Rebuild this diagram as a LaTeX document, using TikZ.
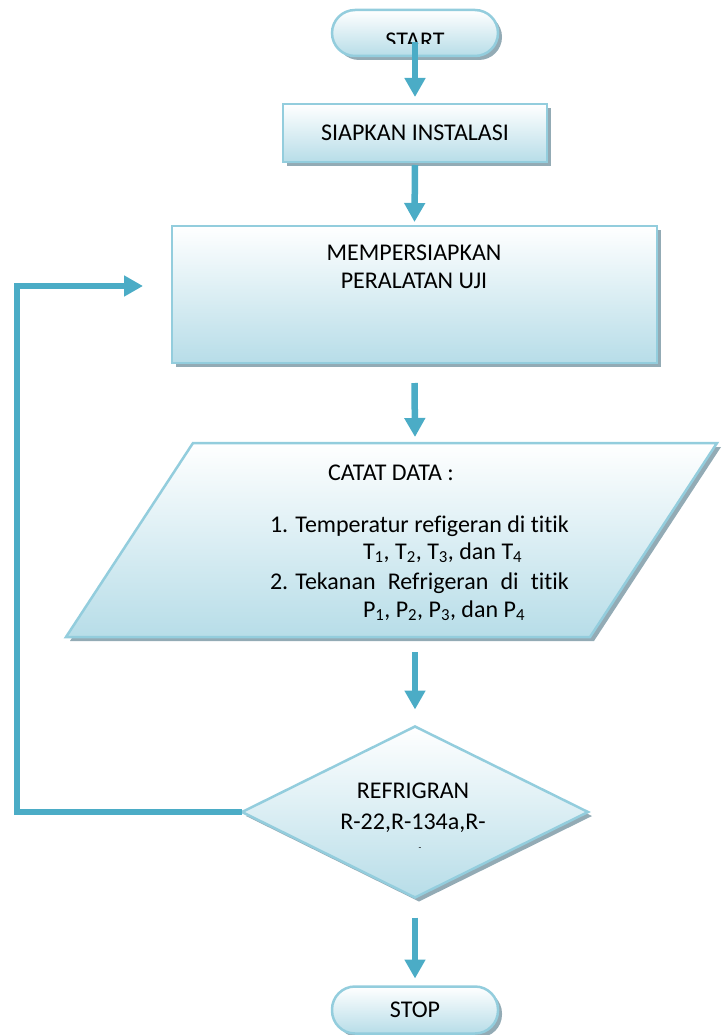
\documentclass[tikz,border=0pt]{standalone}
\usepackage{fontspec}
\setmainfont{Carlito}[Ligatures=NoCommon]
\usepackage{calc}
\usetikzlibrary{arrows.meta,shapes.geometric,shadows,calc}
\definecolor{arrc}{HTML}{4BACC6}
\definecolor{bordc}{HTML}{93CDDD}
\definecolor{fillc}{HTML}{B7DDE8}
\definecolor{shadc}{HTML}{93ABB5}
\begin{document}
\begin{tikzpicture}[x=1pt,y=-1pt,
  every node/.style={font=\fontsize{24}{28.5}\selectfont, inner sep=0pt, outer sep=0pt},
  boxsh/.style={draw=bordc, line width=2.5pt, top color=white, bottom color=fillc,
    drop shadow={shadow xshift=4pt, shadow yshift=-4pt, fill=shadc, opacity=1}},
  pill/.style={boxsh, rounded corners=23pt, minimum width=166pt, minimum height=46pt},
  arr/.style={draw=arrc, line width=6.5pt, -{Triangle[length=19pt,width=20pt]}}]
\path[use as bounding box] (0,0) rectangle (726,1035);

% START
\node[pill] (start) at (415,33) {};
\begin{scope}
  \clip (300,0) rectangle (530,44);
  \node (starttxt) at (415,40.5) {START};
\end{scope}

% SIAPKAN INSTALASI
\node[boxsh, minimum width=264pt, minimum height=58pt] (siap) at (415,133) {SIAPKAN INSTALASI};

% MEMPERSIAPKAN
\node[boxsh, minimum width=485pt, minimum height=137pt] (mem) at (414.5,294.5) {};
\node[align=center] (memtxt) at (414,267) {MEMPERSIAPKAN\\PERALATAN UJI};

% CATAT DATA parallelogram
\path[boxsh] (193,443) -- (717,443) -- (590,637) -- (66,637) -- cycle;
\coordinate (paran) at (415,443);
\coordinate (paras) at (415,637);
\node[anchor=base] (catat) at (391,480) {CATAT DATA :};
\node[anchor=base west] (l1) at (270,532) {1. Temperatur refigeran di titik};
\node[anchor=base west] (l2) at (363,559) {T\textsubscript{1}, T\textsubscript{2}, T\textsubscript{3}, dan T\textsubscript{4}};
\node[anchor=base west] (l3) at (270,589) {\makebox[\widthof{1. Temperatur refigeran di titik}][s]{\hbox{2. Tekanan} Refrigeran di titik}};
\node[anchor=base west] (l4) at (363,617) {P\textsubscript{1}, P\textsubscript{2}, P\textsubscript{3}, dan P\textsubscript{4}};

% Decision
\node[boxsh, diamond, minimum width=346pt, minimum height=171pt] (dia) at (415,812) {};
\node (diat1) at (413,791) {REFRIGRAN};
\node (diat2) at (413,823) {R-22,R-134a,R-};
\node[font=\fontsize{9}{10}\selectfont] (diat3) at (420,849) {-};

% STOP
\node[pill, minimum height=47pt] (stop) at (415,1010) {STOP};

% connectors
\draw[arr] ($(start.center)+(0,9)$) -- ($(siap.north)+(0,-7)$);
\draw[arr] ($(siap.south)+(0,3)$) -- ($(mem.north)+(0,-4)$);
\draw[arr] ($(mem.south)+(0,20)$) -- ($(paran)+(0,-6)$);
\draw[arr] ($(paras)+(0,15)$) -- ($(dia.north)+(0,-17)$);
\draw[arr] ($(dia.south)+(0,20)$) -- ($(stop.north)+(0,-8)$);

\coordinate (fbc) at (17,286);
\coordinate (fbtip) at (143,286);
\draw[arr] (dia.west) -| (fbc) -- (fbtip);
\end{tikzpicture}
\end{document}
